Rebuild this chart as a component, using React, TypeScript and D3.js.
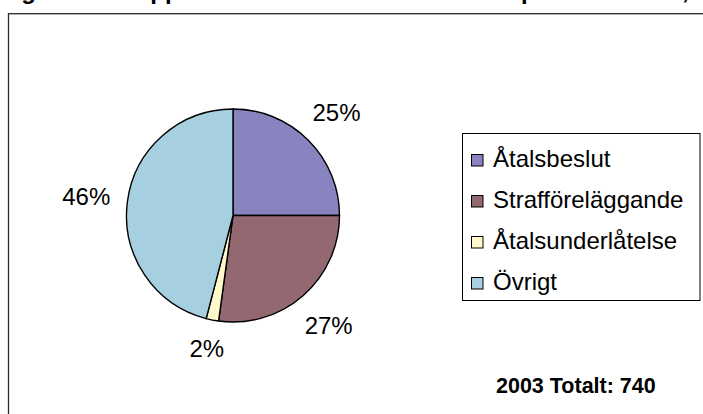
import React from "react";
import * as d3 from "d3";

const categories = ["Åtalsbeslut", "Strafföreläggande", "Åtalsunderlåtelse", "Övrigt"];
const counts = [185, 201, 14, 340];
const colors = ["#8884c0", "#936870", "#fff9cc", "#a6cfe0"];
const totalLabel = "2003 Totalt: 740";

const W = 703;
const H = 414;
const cx = 233;
const cy = 215.5;
const R = 106.5;
const labelFont = 24;

export default function App() {
  const total = d3.sum(counts);
  const pie = d3.pie<number>().sort(null).value((d) => d)(counts);
  const arc = d3.arc<d3.PieArcDatum<number>>().innerRadius(0).outerRadius(R);
  const legendY = d3.scaleLinear().domain([0, categories.length - 1]).range([166.5, 289.5]);

  const font = "'Liberation Sans', Arial, Helvetica, sans-serif";

  return (
    <svg
      width={W}
      height={H}
      style={{ position: "absolute", left: 0, top: 0, background: "#fff" }}
      fontFamily={font}
    >
      {/* title clipped by the top edge (only descenders visible) */}
      <g fontWeight="bold" fontSize={24} fill="#000">
        <text x={0} y={-1}>Figur 6.</text>
        <text x={133} y={-1}>Uppklarade ärenden efter beslut</text>
        <text x={521} y={-1}>procent</text>
        <text x={682} y={-1}>, 2003</text>
      </g>
      {/* chart frame */}
      <rect x={8.5} y={13.7} width={740} height={440} fill="#fff" stroke="#2a2a2a" strokeWidth={1.3} />

      <g transform={`translate(${cx},${cy})`}>
        {pie.map((p, i) => (
          <path key={i} d={arc(p) || ""} fill={colors[i]} stroke="#000" strokeWidth={1.4} strokeLinejoin="round" />
        ))}
      </g>

      {pie.map((p, i) => {
        const a = (p.startAngle + p.endAngle) / 2;
        const s = Math.sin(a);
        const c = Math.cos(a);
        const pct = Math.round((p.value / total) * 100);
        const label = `${pct}%`;
        const w = labelFont * (0.556 * String(pct).length + 0.889);
        const h = 18;
        const support = (w / 2) * Math.abs(s) + (h / 2) * Math.abs(c);
        const dist = R + 16.5 + support;
        const x = cx + s * dist;
        const y = cy - c * dist;
        return (
          <text key={i} x={x} y={y + 8.7} textAnchor="middle" fontSize={labelFont} fill="#000">
            {label}
          </text>
        );
      })}

      {/* legend */}
      <rect x={462.5} y={133.5} width={237.5} height={167} fill="#fff" stroke="#000" strokeWidth={1} />
      {categories.map((cat, i) => {
        const by = legendY(i);
        return (
          <g key={cat}>
            <rect x={471.5} y={by - 12} width={11.5} height={11.5} fill={colors[i]} stroke="#000" strokeWidth={1} />
            <text x={493} y={by} fontSize={24} fill="#000">
              {cat}
            </text>
          </g>
        );
      })}

      <text x={496} y={392.7} fontSize={21.5} fontWeight="bold" fill="#000">
        {totalLabel}
      </text>
    </svg>
  );
}
